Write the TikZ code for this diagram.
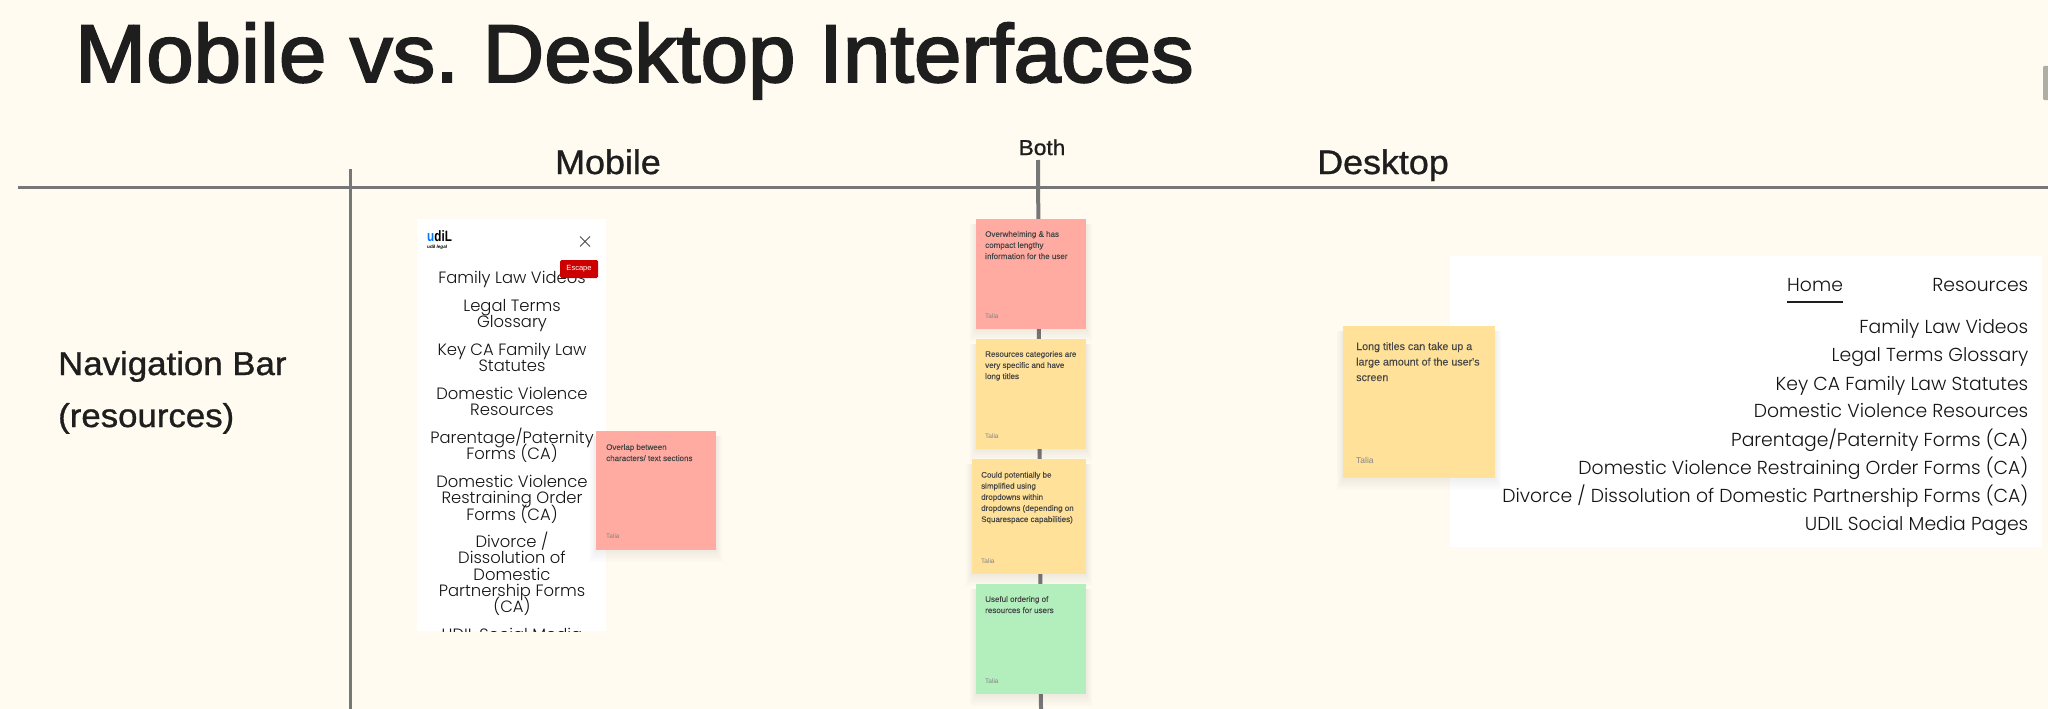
\documentclass[tikz,border=0pt]{standalone}
\usepackage{fontspec}
\setmainfont{Liberation Sans}
\newfontfamily\pop{Poppins Light}
\newfontfamily\ttl[FakeBold=2.4,FakeStretch=1.04]{Liberation Sans}
\newfontfamily\hdg[FakeBold=1,FakeStretch=1.055]{Liberation Sans}
\newfontfamily\stk[FakeBold=0.25]{Liberation Sans}
\usetikzlibrary{calc}
\definecolor{bgc}{HTML}{FFFBF0}
\definecolor{axisc}{HTML}{777777}
\definecolor{inkc}{HTML}{1E1E1E}
\definecolor{redn}{HTML}{FFABA1}
\definecolor{yelln}{HTML}{FFE199}
\definecolor{grnn}{HTML}{B3EFBD}
\definecolor{escc}{HTML}{CC0000}
\definecolor{barc}{HTML}{AEAEA6}
\newcommand{\fs}[2]{\frenchspacing\lineskiplimit=-100pt\fontsize{#1}{#2}\selectfont}
\newcommand{\shadowrect}[4]{%
  \foreach \k in {1,...,8}{\fill[black,opacity=0.009] (#1-0.8*\k,#2+5) rectangle (#3+0.8*\k,#4+1.5*\k);}}
\tikzset{
  x=1pt,y=-1pt,
  axis/.style={draw=axisc,line width=3.8pt},
  axisthin/.style={draw=axisc,line width=3pt},
  heading/.style={inner sep=0pt,text=inkc,anchor=base},
  stickytext/.style={inner sep=0pt,anchor=base west,align=left,text=black!72,font=\stk\fs{8}{11.1}},
  stickyauthor/.style={inner sep=0pt,anchor=base west,text=black!48,font=\fs{6.5}{8}},
  panel/.style={fill=white,draw=none},
  mob/.style={inner sep=0pt,anchor=base,text=black!92,font=\pop\fs{16.4}{16.3},align=center},
  desk/.style={inner sep=0pt,anchor=base east,text=black!92,font=\pop\fs{18.8}{24}},
}
\begin{document}
\begin{tikzpicture}
\useasboundingbox (0,0) rectangle (2048,709);
\fill[bgc] (0,0) rectangle (2048,709);
% axes
\coordinate (hl) at (18,187.5); \coordinate (hr) at (2048,187.5);
\coordinate (vlt) at (350,169); \coordinate (vlb) at (350,709);
\coordinate (vct) at (1038,160); \coordinate (vcb) at (1041,709);
\draw[axis] (hl) -- (hr);
\draw[axisthin] (vlt) -- (vlb);
\draw[axisthin,line width=4pt] (vct) -- (vcb);
% headings
\node[heading,anchor=base west,font=\ttl\fs{82}{90}] (title) at (75,82) {Mobile vs. Desktop Interfaces};
\node[heading,font=\hdg\fs{34}{38}] (mobile) at (608,174) {Mobile};
\node[heading,font=\hdg\fs{21.5}{24}] (both) at (1042,155) {Both};
\node[heading,font=\hdg\fs{34}{38}] (desktop) at (1383,174) {Desktop};
\node[heading,anchor=base west,font=\hdg\fs{33}{38}] (navbar) at (58,375) {Navigation Bar};
\node[heading,anchor=base west,font=\hdg\fs{33}{38}] (navres) at (58,427) {(resources)};
% phone panel
\fill[panel] (417,219) rectangle (606,631);
\begin{scope}
\clip (417,219) rectangle (606,631);
\node[mob] (m1) at (512,283) {Family Law Videos};
\node[mob] (m2) at (512,327.6) {Legal Terms\\Glossary};
\node[mob] (m3) at (512,371.6) {Key CA Family Law\\Statutes};
\node[mob] (m4) at (512,415.7) {Domestic Violence\\Resources};
\node[mob] (m5) at (512,459.7) {Parentage/Paternity\\Forms (CA)};
\node[mob] (m6) at (512,520) {Domestic Violence\\Restraining Order\\Forms (CA)};
\node[mob] (m7) at (512,612.7) {Divorce /\\Dissolution of\\Domestic\\Partnership Forms\\(CA)};
\node[mob] (m8) at (512,640) {UDIL Social Media};
\end{scope}
% logo
\node[inner sep=0pt,anchor=base west,font=\bfseries\fs{15}{15}] (logo) at (427,241) {\scalebox{0.78}[1]{\textcolor{blue!55!cyan}{u}\textcolor{black}{diL}}};
\node[inner sep=0pt,anchor=base west,font=\bfseries\fs{4.6}{5}] (logosub) at (427,248) {udil \textit{legal}};
% close
\coordinate (xa) at (580,236.5); \coordinate (xb) at (590,246.5);
\coordinate (xc) at (590,236.5); \coordinate (xd) at (580,246.5);
\draw[black!70,line width=0.9pt] (xa) -- (xb) (xc) -- (xd);
% escape
\node[fill=escc,rounded corners=1.5pt,inner sep=0pt,minimum width=38pt,minimum height=18pt,text=white,font=\fs{7.5}{9}] (esc) at (579,269) {Escape};
% mobile sticky
\shadowrect{596}{431}{716}{550}
\fill[redn] (596,431) rectangle (716,550);
\node[stickytext] (s0) at (606,461) {Overlap between\\characters/ text sections};
\node[stickyauthor] (s0a) at (606,538) {Talia};
% center stickies
\shadowrect{976}{219}{1086}{329}
\fill[redn] (976,219) rectangle (1086,329);
\node[stickytext] (s1) at (985,259) {Overwhelming \& has\\compact lengthy\\information for the user};
\node[stickyauthor] (s1a) at (985,318) {Talia};
\shadowrect{976}{339}{1086}{449}
\fill[yelln] (976,339) rectangle (1086,449);
\node[stickytext] (s2) at (985,379) {Resources categories are\\very specific and have\\long titles};
\node[stickyauthor] (s2a) at (985,438) {Talia};
\shadowrect{972}{459}{1086}{574}
\fill[yelln] (972,459) rectangle (1086,574);
\node[stickytext] (s3) at (981,522) {Could potentially be\\simplified using\\dropdowns within\\dropdowns (depending on\\Squarespace capabilities)};
\node[stickyauthor] (s3a) at (981,563) {Talia};
\shadowrect{976}{584}{1086}{694}
\fill[grnn] (976,584) rectangle (1086,694);
\node[stickytext] (s4) at (985,613) {Useful ordering of\\resources for users};
\node[stickyauthor] (s4a) at (985,683) {Talia};
% desktop panel
\fill[panel] (1450,256) rectangle (2042,547);
\node[desk] (dres) at (2028.5,291) {Resources};
\node[desk,anchor=base west] (dhome) at (1787,291) {Home};
\coordinate (ula) at (1787,302); \coordinate (ulb) at (1843,302);
\draw[inkc,line width=1.6pt] (ula) -- (ulb);
\node[desk] (d1) at (2028.5,333) {Family Law Videos};
\node[desk] (d2) at (2028.5,361.7) {Legal Terms Glossary};
\node[desk] (d3) at (2028.5,390) {Key CA Family Law Statutes};
\node[desk] (d4) at (2028.5,417.7) {Domestic Violence Resources};
\node[desk] (d5) at (2028.5,446) {Parentage/Paternity Forms (CA)};
\node[desk] (d6) at (2028.5,474) {Domestic Violence Restraining Order Forms (CA)};
\node[desk] (d7) at (2028.5,502) {Divorce / Dissolution of Domestic Partnership Forms (CA)};
\node[desk] (d8) at (2028.5,530.7) {UDIL Social Media Pages};
% desktop sticky
\shadowrect{1343}{326}{1495}{478}
\fill[yelln] (1343,326) rectangle (1495,478);
\node[stickytext,font=\stk\fs{10.7}{15.5}] (s5) at (1356,381) {Long titles can take up a\\large amount of the user's\\screen};
\node[stickyauthor,font=\fs{8.5}{10}] (s5a) at (1356,463) {Talia};
% scrollbar
\fill[barc,rounded corners=1pt] (2043,66) rectangle (2049,100);
\end{tikzpicture}
\end{document}
